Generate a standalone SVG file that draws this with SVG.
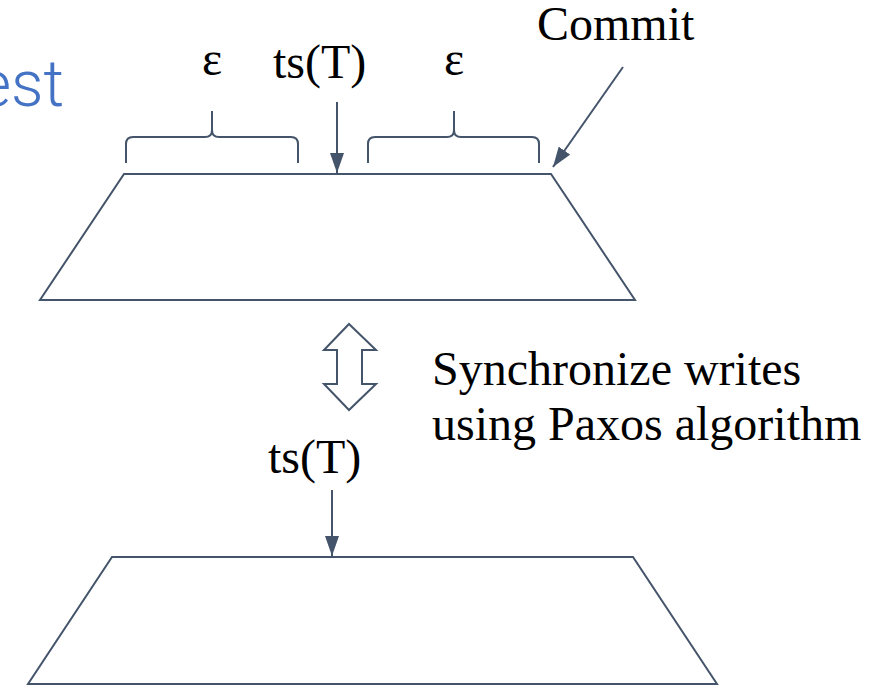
<svg xmlns="http://www.w3.org/2000/svg" width="884" height="685" viewBox="0 0 884 685">
  <style>
    .shape { fill: none; stroke: #44546A; stroke-width: 2; stroke-linejoin: miter; }
    .conn { fill: none; stroke: #44546A; stroke-width: 2; }
    .label { font-family: "Liberation Serif", "Times New Roman", serif; font-size: 48px; fill: #000000; }
    .title { font-family: Roboto, "Liberation Sans", sans-serif; font-weight: 300; font-size: 64px; fill: #4472C4; }
  </style>
  <defs>
    <marker id="arrowhead" viewBox="0 0 10 10" refX="10" refY="5" markerWidth="10" markerHeight="7" markerUnits="userSpaceOnUse" orient="auto">
      <path d="M0,0 L10,5 L0,10 z" fill="#44546A"/>
    </marker>
    <marker id="head" viewBox="0 0 20 14" refX="20" refY="7" markerWidth="20" markerHeight="14" markerUnits="userSpaceOnUse" orient="auto">
      <path d="M0,0 L20,7 L0,14 z" fill="#44546A"/>
    </marker>
  </defs>

  <!-- partially visible title -->
  <text class="title" x="64" y="106" text-anchor="end">est</text>

  <!-- upper replica -->
  <g id="replica-top">
    <polygon class="shape" points="124,174 551,174 635,300 40,300"/>
  </g>

  <!-- lower replica -->
  <g id="replica-bottom">
    <polygon class="shape" points="112,557 633,557 717,684 28,684"/>
  </g>

  <!-- uncertainty braces and labels -->
  <g id="epsilon-left">
    <path class="shape" d="M126,163 L126,144 Q126,137 133,137 L205,137 Q212,137 212,130 L212,111 M212,130 Q212,137 219,137 L291,137 Q298,137 298,144 L298,163"/>
    <text class="label" x="212" y="75" text-anchor="middle">ε</text>
  </g>
  <g id="epsilon-right">
    <path class="shape" d="M368,163 L368,144 Q368,137 375,137 L447,137 Q454,137 454,130 L454,111 M454,130 Q454,137 461,137 L532,137 Q539,137 539,144 L539,163"/>
    <text class="label" x="454" y="75" text-anchor="middle">ε</text>
  </g>

  <g id="ts-top">
    <text class="label" x="273" y="78">ts(T)</text>
  </g>
  <g id="commit">
    <text class="label" x="537" y="40">Commit</text>
  </g>
  <g id="ts-bottom">
    <text class="label" x="268" y="473">ts(T)</text>
  </g>

  <!-- Paxos synchronization -->
  <g id="paxos">
    <polygon class="shape" fill="#FFFFFF" style="fill:#FFFFFF" points="349,324 376,350 362,350 362,384 376,384 349,410 324,384 337,384 337,350 324,350"/>
    <text class="label" x="432" y="385">Synchronize writes</text>
    <text class="label" x="432" y="440">using Paxos algorithm</text>
  </g>

  <!-- connectors -->
  <g id="connectors">
    <line class="conn" x1="337" y1="102" x2="337" y2="173" marker-end="url(#head)"/>
    <line class="conn" x1="623" y1="67" x2="553" y2="167" marker-end="url(#head)"/>
    <line class="conn" x1="332" y1="490" x2="332" y2="556" marker-end="url(#head)"/>
  </g>
</svg>
